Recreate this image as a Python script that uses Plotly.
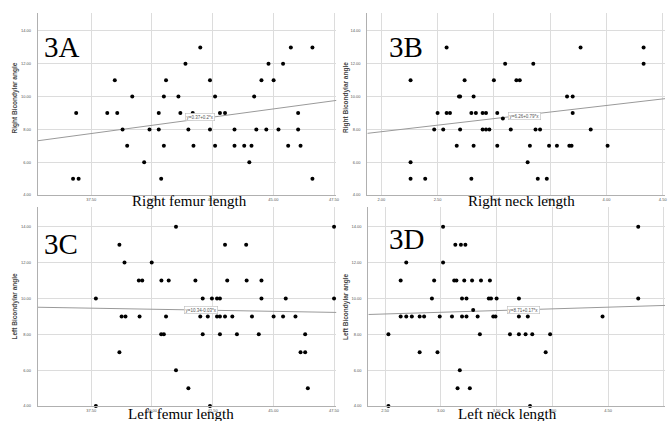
import plotly.graph_objects as go

# ---------------- data ----------------
# Panel 3A: Right femur length vs Right Bicondylar angle
a_x = [41.99, 45.72, 46.61,
       41.38, 44.80, 45.40,
       38.47, 40.58, 42.39, 44.51, 45.01,
       39.19, 40.49, 41.09, 42.60, 44.21,
       36.88, 38.16, 38.57, 40.28, 41.17, 41.68, 42.80, 43.01, 46.02,
       38.79, 39.90, 40.28, 41.50, 42.39, 43.40, 44.30, 44.71, 45.21, 46.02,
       38.98, 40.49, 41.71, 42.60, 43.40, 43.80, 44.10, 45.61, 46.12,
       39.68, 44.01,
       36.75, 36.98, 40.38, 46.61]
a_y = [13, 13, 13,
       12, 12, 12,
       11, 11, 11, 11, 11,
       10, 10, 10, 10, 10,
       9, 9, 9, 9, 9, 9, 9, 9, 9,
       8, 8, 8, 8, 8, 8, 8, 8, 8, 8,
       7, 7, 7, 7, 7, 7, 7, 7, 7,
       6, 6,
       5, 5, 5, 5]

# Panel 3B: Right neck length vs Right Bicondylar angle
b_x = [2.58, 3.77, 4.33,
       3.10, 3.35, 4.33,
       2.26, 2.74, 3.00, 3.20, 3.23,
       2.69, 2.70, 2.82, 3.65, 3.70,
       2.50, 2.58, 2.61, 2.80, 2.84, 2.90, 2.93, 3.03, 3.70,
       3.08,
       2.47, 2.55, 2.70, 2.90, 2.93, 2.96, 3.15, 3.37, 3.41, 3.86,
       2.67, 2.82, 3.03, 3.32, 3.49, 3.56, 3.67, 3.69, 4.01,
       2.26, 3.30,
       2.26, 2.39, 2.80, 3.39, 3.47]
b_y = [13, 13, 13,
       12, 12, 12,
       11, 11, 11, 11, 11,
       10, 10, 10, 10, 10,
       9, 9, 9, 9, 9, 9, 9, 9, 9,
       8.67,
       8, 8, 8, 8, 8, 8, 8, 8, 8, 8,
       7, 7, 7, 7, 7, 7, 7, 7, 7,
       6, 6,
       5, 5, 5, 5, 5]

# Panel 3C: Left femur length vs Left Bicondylar angle
c_x = [40.99, 47.50,
       38.66, 43.01, 43.88,
       38.87, 39.99,
       39.46, 39.60, 40.39, 40.69, 41.79, 43.10, 43.90, 44.51,
       37.69, 42.09, 42.47, 42.68, 42.80, 44.51, 45.51, 47.50,
       38.75, 38.91, 39.49, 40.58, 41.99, 42.30, 42.68, 42.80, 43.01, 43.31, 44.12, 45.01, 45.40, 45.91,
       40.38, 40.49, 42.09, 42.80, 43.50, 44.40, 46.31,
       38.66, 46.12, 46.31,
       40.99,
       41.50, 46.42,
       37.69, 42.39]
c_y = [14, 14,
       13, 13, 13,
       12, 12,
       11, 11, 11, 11, 11, 11, 11, 11,
       10, 10, 10, 10, 10, 10, 10, 10,
       9, 9, 9, 9, 9, 9, 9, 9, 9, 9, 9, 9, 9, 9,
       8, 8, 8, 8, 8, 8, 8,
       7, 7, 7,
       6,
       5, 5,
       4, 4]

# Panel 3D: Left neck length vs Left Bicondylar angle
d_x = [3.02, 4.77,
       3.13, 3.18, 3.22,
       2.69, 3.02,
       2.64, 2.94, 3.12, 3.14, 3.21, 3.28, 3.36, 3.44,
       2.92, 3.19, 3.23, 3.43, 3.45, 3.50, 3.70, 4.77,
       3.29,
       2.64, 2.69, 2.74, 2.81, 2.85, 2.99, 3.10, 3.19, 3.23, 3.33, 3.47, 3.49, 3.70, 3.78, 4.45,
       2.53, 3.35, 3.62, 3.70, 3.76, 3.82, 3.98,
       2.81, 2.97, 3.94,
       3.17,
       3.15, 3.26,
       2.53, 3.80]
d_y = [14, 14,
       13, 13, 13,
       12, 12,
       11, 11, 11, 11, 11, 11, 11, 11,
       10, 10, 10, 10, 10, 10, 10, 10,
       9.35,
       9, 9, 9, 9, 9, 9, 9, 9, 9, 9, 9, 9, 9, 9, 9,
       8, 8, 8, 8, 8, 8, 8,
       7, 7, 7,
       6,
       5, 5,
       4, 4]

panel_tags = ["3A", "3B", "3C", "3D"]
x_titles = ["Right femur length", "Right neck length", "Left femur length", "Left neck length"]
y_titles = ["Right Bicondylar angle", "Right Bicondylar angle", "Left Bicondylar angle", "Left Bicondylar angle"]
fit_labels = ["y=0.37+0.2*x", "y=6.26+0.79*x", "y=10.34-0.03*x", "y=8.71+0.17*x"]
fit_intercepts = [0.25, 6.26, 10.34, 8.66]
fit_slopes = [0.20, 0.80, -0.0235, 0.19]
fit_label_pos = [(41.98, 8.73), (3.27, 8.79), (42.02, 9.36), (3.74, 9.33)]

xs = [a_x, b_x, c_x, d_x]
ys = [a_y, b_y, c_y, d_y]

x_ranges = [[35.3, 47.6], [1.876, 4.52], [35.3, 47.6], [2.35, 5.01]]
x_ticks = [[37.5, 40.0, 42.5, 45.0, 47.5],
           [2.0, 2.5, 3.0, 3.5, 4.0, 4.5],
           [37.5, 40.0, 42.5, 45.0, 47.5],
           [2.5, 3.0, 3.5, 4.0, 4.5, 5.0]]
y_ticks = [4, 6, 8, 10, 12, 14]

# ---------------- layout geometry (pixels) ----------------
W, H = 668, 421
px_x = [(38, 338), (369, 668), (38, 338), (370, 668)]
px_y = [(13, 196), (13, 196), (208, 408), (208, 408)]

fig = go.Figure()
layout = dict(
    width=W, height=H,
    margin=dict(l=0, r=0, t=0, b=0),
    paper_bgcolor="white", plot_bgcolor="white",
    showlegend=False,
    annotations=[],
)

grid_col = "#dcdcdc"
axis_col = "#b0b0b0"
tick_font = dict(family="Arial", size=4, color="#555555")

for i in range(4):
    n = i + 1
    xa = "x" if n == 1 else f"x{n}"
    ya = "y" if n == 1 else f"y{n}"
    xkey = "xaxis" if n == 1 else f"xaxis{n}"
    ykey = "yaxis" if n == 1 else f"yaxis{n}"
    x0, x1 = px_x[i]
    y0, y1 = px_y[i]
    layout[xkey] = dict(
        domain=[x0 / W, x1 / W], anchor=ya, range=x_ranges[i],
        tickvals=x_ticks[i], ticktext=[f"{v:.2f}" for v in x_ticks[i]],
        showgrid=True, gridcolor=grid_col, gridwidth=1,
        zeroline=False, showline=True, linecolor=axis_col, linewidth=1,
        ticks="", tickfont=tick_font,
    )
    layout[ykey] = dict(
        domain=[1 - y1 / H, 1 - y0 / H], anchor=xa, range=[4, 15.1],
        tickvals=y_ticks, ticktext=[f"{v:.2f}" for v in y_ticks],
        showgrid=True, gridcolor=grid_col, gridwidth=1,
        zeroline=False, showline=True, linecolor=axis_col, linewidth=1,
        ticks="", tickfont=tick_font, ticklabelstandoff=5,
    )

    # regression line
    lx = x_ranges[i]
    ly = [fit_intercepts[i] + fit_slopes[i] * v for v in lx]
    fig.add_trace(go.Scatter(x=lx, y=ly, mode="lines", xaxis=xa, yaxis=ya,
                             line=dict(color="#9a9a9a", width=1), hoverinfo="skip"))
    # points
    fig.add_trace(go.Scatter(x=xs[i], y=ys[i], mode="markers", xaxis=xa, yaxis=ya,
                             marker=dict(color="black", size=4), cliponaxis=False))

    # fit label box
    fx, fy = fit_label_pos[i]
    layout["annotations"].append(dict(
        x=fx, y=fy, xref=xa, yref=ya, text=fit_labels[i], showarrow=False,
        font=dict(family="Arial", size=4.5, color="#555555"),
        bgcolor="white", bordercolor="#bdbdbd", borderwidth=0.6, borderpad=1,
    ))

    # panel tag
    tag_x = [42, 389, 42, 389][i]
    tag_y = [47, 47, 245, 240][i]
    layout["annotations"].append(dict(
        x=tag_x / W, y=1 - tag_y / H,
        xref="paper", yref="paper", xanchor="left", yanchor="middle",
        text=panel_tags[i], showarrow=False,
        font=dict(family="Liberation Serif", size=29, color="black"),
    ))

    # x title (serif, overlapping tick labels)
    cx = [190, 524, 182, 510][i]
    cy = [202, 202, 416, 416][i]
    layout["annotations"].append(dict(
        x=cx / W, y=1 - cy / H, xref="paper", yref="paper",
        xanchor="center", yanchor="middle", text=x_titles[i], showarrow=False,
        font=dict(family="Liberation Serif", size=15, color="black"),
    ))

    # y title (rotated)
    tx = [15, 347, 15, 347][i]
    ty = [98, 98, 308, 308][i]
    layout["annotations"].append(dict(
        x=tx / W, y=1 - ty / H, xref="paper", yref="paper",
        xanchor="center", yanchor="middle", text="<b>" + y_titles[i] + "</b>",
        textangle=-90, showarrow=False,
        font=dict(family="Arial", size=6.5, color="#444444"),
    ))

fig.update_layout(**layout)
fig.write_html("out.html", config={"displayModeBar": False},
               post_script="document.body.style.margin='0px';document.body.style.overflow='hidden';")
